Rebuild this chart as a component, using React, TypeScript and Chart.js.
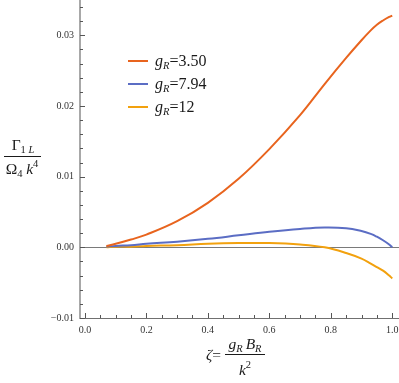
import React, { useEffect, useRef } from "react";
import { Chart, registerables } from "chart.js";

Chart.register(...registerables);

// ---- data ----
const zeta = [0.07, 0.1, 0.15, 0.2, 0.3, 0.4, 0.5, 0.6, 0.7, 0.78, 0.85, 0.9, 0.93, 0.95, 0.97, 0.99, 1.0];
const gR350 = [0.0002, 0.0005, 0.0011, 0.0018, 0.0037, 0.0063, 0.0097, 0.0139, 0.0187, 0.0231, 0.0268, 0.0293, 0.0307, 0.0315, 0.0321, 0.0326, 0.0328];
const gR794 = [0.0001, 0.0002, 0.0003, 0.0005, 0.0008, 0.0012, 0.0017, 0.0022, 0.0026, 0.0028, 0.0027, 0.0023, 0.0019, 0.0015, 0.001, 0.0004, 0.0];
const gR12 = [0.0, 0.0001, 0.0001, 0.0002, 0.0003, 0.0005, 0.0006, 0.0006, 0.0004, 0.0, -0.0008, -0.0016, -0.0023, -0.0028, -0.0033, -0.004, -0.0044];

const seriesLabels = ["3.50", "7.94", "12"];
const seriesColors = ["#E8641E", "#5B6DC4", "#F2A10E"];
const seriesValues = [gR350, gR794, gR12];

const xTicksMajor = [0, 0.2, 0.4, 0.6, 0.8, 1.0];
const yTicksMajor = [-0.01, 0, 0.01, 0.02, 0.03];
const xMinorStep = 0.05;
const yMinorStep = 0.002;

const SERIF = "'Liberation Serif', 'DejaVu Serif', serif";

type Run = { t: string; size: number; italic?: boolean; dy?: number };

function runsWidth(ctx: CanvasRenderingContext2D, runs: Run[]) {
  let w = 0;
  for (const r of runs) {
    ctx.font = `${r.italic ? "italic " : ""}${r.size}px ${SERIF}`;
    w += ctx.measureText(r.t).width;
  }
  return w;
}

function drawRuns(ctx: CanvasRenderingContext2D, x: number, y: number, runs: Run[], align: "left" | "center") {
  let cx = align === "center" ? x - runsWidth(ctx, runs) / 2 : x;
  ctx.textAlign = "left";
  ctx.textBaseline = "alphabetic";
  for (const r of runs) {
    ctx.font = `${r.italic ? "italic " : ""}${r.size}px ${SERIF}`;
    ctx.fillText(r.t, cx, y + (r.dy || 0));
    cx += ctx.measureText(r.t).width;
  }
}

const decorPlugin = {
  id: "decor",
  afterDraw(chart: any) {
    const ctx: CanvasRenderingContext2D = chart.ctx;
    const xs = chart.scales.x;
    const ys = chart.scales.y;
    const area = chart.chartArea;
    ctx.save();
    // inward ticks
    ctx.strokeStyle = "#555";
    ctx.lineWidth = 1;
    const eps = 1e-9;
    for (let v = Math.ceil(xs.min / xMinorStep) * xMinorStep; v <= xs.max + eps; v += xMinorStep) {
      const major = xTicksMajor.some((m) => Math.abs(m - v) < 1e-6);
      const px = Math.round(xs.getPixelForValue(v)) + 0.5;
      const len = major ? 5 : 3;
      ctx.beginPath();
      ctx.moveTo(px, area.bottom);
      ctx.lineTo(px, area.bottom - len);
      ctx.stroke();
    }
    for (let v = Math.ceil(ys.min / yMinorStep) * yMinorStep; v <= ys.max + eps; v += yMinorStep) {
      const major = yTicksMajor.some((m) => Math.abs(m - v) < 1e-6);
      const py = Math.round(ys.getPixelForValue(v)) + 0.5;
      const len = major ? 5 : 3;
      ctx.beginPath();
      ctx.moveTo(area.left, py);
      ctx.lineTo(area.left + len, py);
      ctx.stroke();
    }

    ctx.fillStyle = "#1a1a1a";
    ctx.strokeStyle = "#1a1a1a";
    // legend
    const legendRows = [61, 84, 107];
    seriesLabels.forEach((lab, i) => {
      const y = legendRows[i];
      ctx.strokeStyle = seriesColors[i];
      ctx.lineWidth = 2;
      ctx.beginPath();
      ctx.moveTo(128, y);
      ctx.lineTo(148, y);
      ctx.stroke();
      ctx.fillStyle = "#1a1a1a";
      drawRuns(ctx, 155, y + 5, [
        { t: "g", size: 16, italic: true },
        { t: "R", size: 10.5, italic: true, dy: 3 },
        { t: "=" + lab, size: 16 },
      ], "left");
    });

    // y axis title (fraction)
    ctx.fillStyle = "#1a1a1a";
    drawRuns(ctx, 23, 150, [
      { t: "Γ", size: 15.5 },
      { t: "1 ", size: 10.5, dy: 3 },
      { t: "L", size: 10.5, italic: true, dy: 3 },
    ], "center");
    ctx.strokeStyle = "#1a1a1a";
    ctx.lineWidth = 1;
    ctx.beginPath();
    ctx.moveTo(4, 156.5);
    ctx.lineTo(41, 156.5);
    ctx.stroke();
    drawRuns(ctx, 22, 174, [
      { t: "Ω", size: 15.5 },
      { t: "4", size: 10.5, dy: 3 },
      { t: " ", size: 15 },
      { t: "k", size: 15.5, italic: true },
      { t: "4", size: 10.5, dy: -7 },
    ], "center");

    // x axis title
    drawRuns(ctx, 206, 360, [
      { t: "ζ", size: 15.5, italic: true },
      { t: "=", size: 15.5 },
    ], "left");
    drawRuns(ctx, 245, 349, [
      { t: "g", size: 15.5, italic: true },
      { t: "R", size: 10.5, italic: true, dy: 3 },
      { t: " ", size: 12 },
      { t: "B", size: 15.5, italic: true },
      { t: "R", size: 10.5, italic: true, dy: 3 },
    ], "center");
    ctx.beginPath();
    ctx.moveTo(225, 354.5);
    ctx.lineTo(265, 354.5);
    ctx.stroke();
    drawRuns(ctx, 245, 375, [
      { t: "k", size: 15.5, italic: true },
      { t: "2", size: 10.5, dy: -7 },
    ], "center");
    ctx.restore();
  },
};

export default function App() {
  const ref = useRef<HTMLCanvasElement | null>(null);
  useEffect(() => {
    if (!ref.current) return;
    const datasets = seriesValues.map((vals, i) => ({
      label: "gR=" + seriesLabels[i],
      data: zeta.map((x, j) => ({ x, y: vals[j] })),
      borderColor: seriesColors[i],
      backgroundColor: seriesColors[i],
      borderWidth: 2,
      pointRadius: 0,
      tension: 0.4,
      fill: false,
    }));
    const chart = new Chart(ref.current, {
      type: "line",
      data: { datasets },
      options: {
        animation: false,
        responsive: false,
        maintainAspectRatio: false,
        layout: { padding: 0 },
        plugins: { legend: { display: false }, tooltip: { enabled: false }, title: { display: false } },
        scales: {
          x: {
            type: "linear",
            min: -0.016,
            max: 1.022,
            afterBuildTicks: (s: any) => {
              s.ticks = xTicksMajor.map((v) => ({ value: v }));
            },
            afterFit: (s: any) => {
              s.height = 65;
              s.paddingLeft = 0;
              s.paddingRight = 0;
            },
            grid: { display: false, drawTicks: false },
            border: { display: true, color: "#707070", width: 1 },
            ticks: {
              padding: 6,
              maxRotation: 0,
              autoSkip: false,
              color: "#333",
              font: { family: SERIF, size: 10 },
              callback: (v: any) => Number(v).toFixed(1),
            },
          },
          y: {
            type: "linear",
            min: -0.01,
            max: 0.035,
            afterBuildTicks: (s: any) => {
              s.ticks = yTicksMajor.map((v) => ({ value: v }));
            },
            afterFit: (s: any) => {
              s.width = 80;
              s.paddingTop = 0;
              s.paddingBottom = 0;
            },
            grid: {
              display: true,
              drawTicks: false,
              drawOnChartArea: true,
              color: (c: any) => (c.tick && Math.abs(c.tick.value) < 1e-9 ? "#7a7a7a" : "rgba(0,0,0,0)"),
              lineWidth: 1,
            },
            border: { display: true, color: "#a8a8a8", width: 2 },
            ticks: {
              padding: 6,
              autoSkip: false,
              color: "#333",
              font: { family: SERIF, size: 10 },
              callback: (v: any) => {
                const n = Number(v);
                const s = Math.abs(n).toFixed(2);
                return n < -1e-9 ? "−" + s : s;
              },
            },
          },
        },
      },
      plugins: [decorPlugin],
    });
    return () => chart.destroy();
  }, []);
  return (
    <div style={{ position: "fixed", left: 0, top: 0, width: 399, height: 383, background: "#fff" }}>
      <canvas ref={ref} width={399} height={383} style={{ display: "block" }} />
    </div>
  );
}
